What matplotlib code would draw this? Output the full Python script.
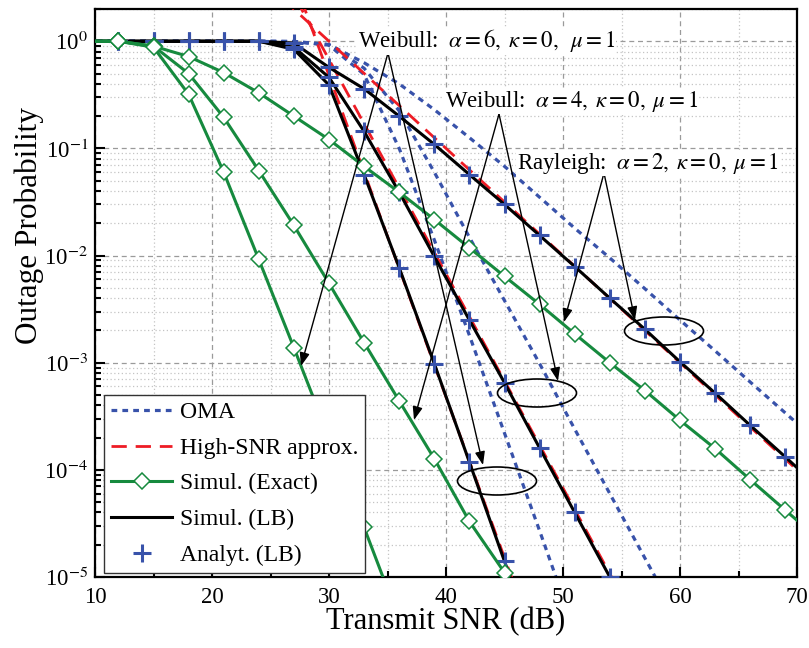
import numpy as np
import matplotlib
matplotlib.use("Agg")
import matplotlib.pyplot as plt
from matplotlib.patches import Ellipse
from matplotlib.lines import Line2D
from matplotlib.ticker import FixedLocator, FuncFormatter, NullFormatter

# ---------------- data ----------------
x_exact_a2 = list(range(0, 73, 3))
exact_a2 = [1, 1, 1, 1, 1.0, 0.9, 0.72, 0.51, 0.33, 0.2, 0.121, 0.068, 0.039,
            0.0217, 0.0118, 6.4e-3, 3.5e-3, 1.86e-3, 1.0e-3, 5.5e-4, 2.9e-4,
            1.58e-4, 8.1e-5, 4.2e-5, 2.2e-5]
x_exact_a4 = list(range(0, 49, 3))
exact_a4 = [1, 1, 1, 1, 1, 0.9, 0.5, 0.195, 0.062, 0.0191, 5.5e-3, 1.54e-3,
            4.4e-4, 1.27e-4, 3.3e-5, 1.1e-5, 3.2e-6]
x_exact_a6 = list(range(0, 37, 3))
exact_a6 = [1, 1, 1, 1, 1, 0.88, 0.32, 0.06, 9.2e-3, 1.38e-3, 2.0e-4, 2.9e-5, 4e-6]

x_lb_a2 = list(range(0, 73, 3))
lb_a2 = [1, 1, 1, 1, 1, 1, 1, 1, 1, 0.96, 0.57, 0.36, 0.2, 0.109, 0.057, 0.030,
         0.0154, 7.9e-3, 4.0e-3, 2.05e-3, 1.02e-3, 5.2e-4, 2.6e-4, 1.32e-4, 6.6e-5]
x_lb_a4 = list(range(0, 58, 3))
lb_a4 = [1, 1, 1, 1, 1, 1, 1, 1, 1, 0.88, 0.46, 0.144, 0.039, 9.8e-3, 2.5e-3,
         6.5e-4, 1.6e-4, 4.0e-5, 1.0e-5, 2.5e-6]
x_lb_a6 = list(range(0, 49, 3))
lb_a6 = [1, 1, 1, 1, 1, 1, 1, 1, 1, 0.84, 0.39, 0.057, 7.7e-3, 9.8e-4, 1.18e-4,
         1.4e-5, 1.7e-6]

x_oma_a2 = list(range(0, 73, 3))
oma_a2 = [1, 1, 1, 1, 1, 1, 1, 1, 1, 0.995, 0.93, 0.63, 0.40, 0.23, 0.126, 0.068,
          0.035, 0.018, 9.5e-3, 4.9e-3, 2.5e-3, 1.29e-3, 6.6e-4, 3.4e-4, 1.74e-4]
x_oma_a4 = list(range(0, 64, 3))
oma_a4 = [1, 1, 1, 1, 1, 1, 1, 1, 1, 0.995, 0.93, 0.56, 0.224, 0.060, 0.0148,
          3.8e-3, 9.8e-4, 2.4e-4, 6.0e-5, 1.5e-5, 3.8e-6, 9.5e-7]
x_oma_a6 = list(range(0, 52, 3))
oma_a6 = [1, 1, 1, 1, 1, 1, 1, 1, 1, 0.99, 0.92, 0.49, 0.10, 0.014, 1.8e-3,
          2.2e-4, 2.7e-5, 3.2e-6]

x_hi_a2 = [25, 30, 35, 40, 45, 50, 55, 60, 65, 70]
hi_a2 = [3.16, 1.0, 0.316, 0.1, 0.0316, 0.01, 3.16e-3, 1e-3, 3.16e-4, 1e-4]
x_hi_a4 = [25, 30, 35, 40, 45, 50, 55]
hi_a4 = [6.76, 0.676, 0.0676, 6.76e-3, 6.76e-4, 6.76e-5, 6.76e-6]
x_hi_a6 = [25, 30, 35, 40, 45, 50]
hi_a6 = [15.1, 0.479, 0.0151, 4.79e-4, 1.51e-5, 4.79e-7]

legend_labels = ["OMA", "High-SNR approx.", "Simul. (Exact)", "Simul. (LB)", "Analyt. (LB)"]
annot_texts = [r"Weibull: $\;\alpha = 6,\;\kappa = 0,\;\;\mu = 1$",
               r"Weibull: $\;\alpha = 4,\;\kappa = 0,\;\mu = 1$",
               r"Rayleigh: $\;\alpha = 2,\;\kappa = 0,\;\mu = 1$"]
xticks = [10, 20, 30, 40, 50, 60, 70]
yticks = [1e-5, 1e-4, 1e-3, 1e-2, 1e-1, 1e0]

# ---------------- style ----------------
plt.rcParams['font.family'] = ['Liberation Serif', 'DejaVu Serif']
plt.rcParams['mathtext.fontset'] = 'stix'

BLUE = "#3852aa"
GREEN = "#168a3e"
RED = "#ee1c25"

W, H = 809, 648
fig = plt.figure(figsize=(W / 100, H / 100), dpi=100)
L, R, T, B = 95, 797, 9, 577
ax = fig.add_axes([L / W, (H - B) / H, (R - L) / W, (B - T) / H])
ax.set_yscale('log')
ax.set_xlim(10, 70)
ax.set_ylim(1e-5, 2)

def ax_frac(px, py):
    return ((px - L) / (R - L), (B - py) / (B - T))

# grid
ax.grid(which='major', color='#9a9a9a', linestyle=(0, (4, 3)), linewidth=0.9, zorder=0)
ax.grid(which='minor', color='#c4c4c4', linestyle=(0, (1, 2)), linewidth=0.9, zorder=0)
ax.xaxis.set_major_locator(FixedLocator(xticks))
ax.xaxis.set_minor_locator(FixedLocator([15, 25, 35, 45, 55, 65]))
ax.yaxis.set_major_locator(FixedLocator(yticks))
minor_y = [m * 10.0 ** e for e in range(-5, 1) for m in range(2, 10)]
ax.yaxis.set_minor_locator(FixedLocator(minor_y))
ax.yaxis.set_minor_formatter(NullFormatter())
ax.yaxis.set_major_formatter(FuncFormatter(lambda v, p: r"10$^{%d}$" % int(round(np.log10(v)))))
ax.set_axisbelow(True)

ax.tick_params(which='both', direction='in', top=False, right=False, width=1.5)
ax.tick_params(which='major', length=7, labelsize=16.5)
ax.tick_params(which='minor', length=4.5)
ax.tick_params(axis='x', pad=7)
ax.tick_params(axis='y', pad=5)
for s in ax.spines.values():
    s.set_linewidth(1.6)

lw = 2.2
# OMA
for xs, ys in [(x_oma_a2, oma_a2), (x_oma_a4, oma_a4), (x_oma_a6, oma_a6)]:
    ax.plot(xs, ys, color=BLUE, lw=2.3, linestyle=(0, (1.8, 1.6)), zorder=2)
# High SNR approx
for xs, ys in [(x_hi_a2, hi_a2), (x_hi_a4, hi_a4), (x_hi_a6, hi_a6)]:
    ax.plot(xs, ys, color=RED, lw=2.0, linestyle=(0, (5.5, 3.2)), zorder=3)
# LB simul
for xs, ys in [(x_lb_a2, lb_a2), (x_lb_a4, lb_a4), (x_lb_a6, lb_a6)]:
    ax.plot(xs, ys, color='k', lw=lw, zorder=4)
# Analytical LB
for xs, ys in [(x_lb_a2, lb_a2), (x_lb_a4, lb_a4), (x_lb_a6, lb_a6)]:
    ax.plot(xs, ys, linestyle='none', marker='+', ms=13, mew=2.2, color=BLUE, zorder=5)
# Exact
for xs, ys in [(x_exact_a2, exact_a2), (x_exact_a4, exact_a4), (x_exact_a6, exact_a6)]:
    ax.plot(xs, ys, color=GREEN, lw=lw, marker='D', ms=8, mfc='white', mec=GREEN,
            mew=1.1, zorder=6)

# annotations (text)
tpos = [(358, 41), (445, 101), (517, 163)]
for (px, py), t in zip(tpos, annot_texts):
    fx, fy = ax_frac(px, py)
    ax.text(fx, fy, t, transform=ax.transAxes, fontsize=16.5, ha='left', va='center',
            zorder=8, bbox=dict(facecolor='white', edgecolor='none', pad=0.5))

# arrows
arrows = [((388, 53), (301, 366)), ((388, 53), (483, 465)),
          ((499, 114), (414, 420)), ((499, 114), (558, 381)),
          ((604, 173), (564, 322)), ((604, 173), (635, 320))]
for (apx, apy), (tpx, tpy) in arrows:
    ax.annotate("", xy=ax_frac(tpx, tpy), xytext=ax_frac(apx, apy),
                xycoords='axes fraction', textcoords='axes fraction',
                arrowprops=dict(arrowstyle='-|>,head_length=0.8,head_width=0.3',
                                color='k', lw=1.0, shrinkA=0, shrinkB=0),
                zorder=7)

# ellipses
for (cx, cy) in [(497, 481), (537, 393), (664, 331)]:
    fx, fy = ax_frac(cx, cy)
    e = Ellipse((fx, fy), 79 / (R - L), 28 / (B - T), transform=ax.transAxes,
                facecolor='none', edgecolor='k', lw=1.2, zorder=7)
    ax.add_patch(e)

# legend
handles = [
    Line2D([], [], color=BLUE, lw=2.3, linestyle=(0, (1.8, 1.6))),
    Line2D([], [], color=RED, lw=2.0, linestyle=(0, (5.5, 3.2))),
    Line2D([], [], color=GREEN, lw=lw, marker='D', ms=8, mfc='white', mec=GREEN, mew=1.1),
    Line2D([], [], color='k', lw=lw),
    Line2D([], [], linestyle='none', marker='+', ms=13, mew=2.2, color=BLUE),
]
lx, ly = ax_frac(104, 573)
leg = ax.legend(handles, legend_labels, loc='lower left', bbox_to_anchor=(lx, ly),
                borderaxespad=0, fontsize=17, frameon=True, fancybox=False,
                edgecolor='#333333', framealpha=1, handlelength=2.6,
                handletextpad=0.3, labelspacing=0.6, borderpad=0.3)
leg.get_frame().set_linewidth(1.0)
leg.set_zorder(10)

# axis labels
fig.text(446 / W, 1 - 622 / H, "Transmit SNR (dB)", ha='center', va='center', fontsize=22)
fig.text(29 / W, 1 - 226 / H, "Outage Probability", ha='center', va='center',
         rotation=90, fontsize=22.5)

fig.savefig("out.png", dpi=100)
